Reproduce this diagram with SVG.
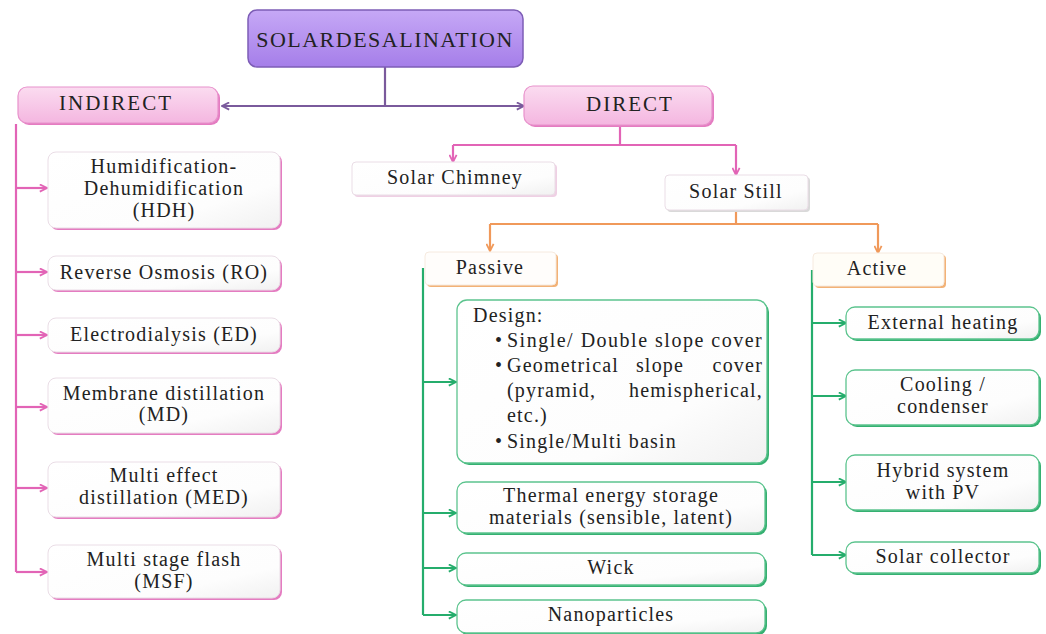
<svg xmlns="http://www.w3.org/2000/svg" width="1046" height="634" viewBox="0 0 1046 634">
<defs>
<linearGradient id="gPurple" x1="0" y1="0" x2="0" y2="1"><stop offset="0" stop-color="#c6a8f6"/><stop offset="1" stop-color="#a57ee9"/></linearGradient>
<linearGradient id="gPink" x1="0" y1="0" x2="0" y2="1"><stop offset="0" stop-color="#fbdcf0"/><stop offset="1" stop-color="#f4b6e0"/></linearGradient>
<linearGradient id="gWhite" x1="0" y1="0" x2="1" y2="1"><stop offset="0" stop-color="#ffffff"/><stop offset="0.7" stop-color="#fdfdfd"/><stop offset="1" stop-color="#f1f1f1"/></linearGradient>
<marker id="aPurple" viewBox="0 0 10 10" refX="9" refY="5" markerWidth="9" markerHeight="9" markerUnits="userSpaceOnUse" orient="auto-start-reverse"><path d="M1,1 L9,5 L1,9" fill="none" stroke="#7a5a9c" stroke-width="2"/></marker>
<marker id="aPink" viewBox="0 0 10 10" refX="9" refY="5" markerWidth="9" markerHeight="9" markerUnits="userSpaceOnUse" orient="auto"><path d="M1,1 L9,5 L1,9" fill="none" stroke="#e264b6" stroke-width="2"/></marker>
<marker id="aOrange" viewBox="0 0 10 10" refX="9" refY="5" markerWidth="9" markerHeight="9" markerUnits="userSpaceOnUse" orient="auto"><path d="M1,1 L9,5 L1,9" fill="none" stroke="#f0995a" stroke-width="2"/></marker>
<marker id="aGreen" viewBox="0 0 10 10" refX="9" refY="5" markerWidth="9" markerHeight="9" markerUnits="userSpaceOnUse" orient="auto"><path d="M1,1 L9,5 L1,9" fill="none" stroke="#25ad6c" stroke-width="2"/></marker>
</defs>
<style>
text{font-family:"Liberation Serif","Times New Roman",serif;fill:#222;font-size:20px;letter-spacing:1.2px}
.c{text-anchor:middle}
.title{font-size:22px;letter-spacing:1.5px}
.hdr{font-size:21px;letter-spacing:2px}
.design{letter-spacing:1.2px}
.wide{letter-spacing:1.5px}
.purpleBox{fill:url(#gPurple);stroke:#7d5db6;stroke-width:1.5}
.pinkBox{fill:url(#gPink);stroke:#e892cc;stroke-width:1.2}
.pinkShadow{fill:#e47cc1}
.wBox{fill:url(#gWhite);stroke:#eadde6;stroke-width:1}
.gBox{fill:url(#gWhite);stroke:#5cc48e;stroke-width:1.3}
.gShadow{fill:#35b071}
.oShadow{fill:#f2b277}
.greyShadow{fill:#d9d9d9}
.lPurple{fill:none;stroke:#7a5a9c;stroke-width:2.2}
.lPink{fill:none;stroke:#e264b6;stroke-width:2.2}
.lOrange{fill:none;stroke:#f0995a;stroke-width:2.2}
.lGreen{fill:none;stroke:#25ad6c;stroke-width:2.2}
</style>

<g id="connectors">
<path class="lPurple" d="M385,67 V106"/>
<path class="lPurple" d="M222,106 H524" marker-start="url(#aPurple)" marker-end="url(#aPurple)"/>
<path class="lPink" d="M16,124 V572"/>
<path class="lPink" d="M16,188 H47" marker-end="url(#aPink)"/>
<path class="lPink" d="M16,272 H47" marker-end="url(#aPink)"/>
<path class="lPink" d="M16,335 H47" marker-end="url(#aPink)"/>
<path class="lPink" d="M16,407 H47" marker-end="url(#aPink)"/>
<path class="lPink" d="M16,488 H47" marker-end="url(#aPink)"/>
<path class="lPink" d="M16,572 H47" marker-end="url(#aPink)"/>
<path class="lPink" d="M620,126 V145"/>
<path class="lPink" d="M453,145 H736"/>
<path class="lPink" d="M453,145 V162" marker-end="url(#aPink)"/>
<path class="lPink" d="M736,145 V175" marker-end="url(#aPink)"/>
<path class="lOrange" d="M736,210 V224"/>
<path class="lOrange" d="M490,224 H878"/>
<path class="lOrange" d="M490,224 V251" marker-end="url(#aOrange)"/>
<path class="lOrange" d="M878,224 V253" marker-end="url(#aOrange)"/>
<path class="lGreen" d="M423,268 V615"/>
<path class="lGreen" d="M423,382 H456" marker-end="url(#aGreen)"/>
<path class="lGreen" d="M423,513 H456" marker-end="url(#aGreen)"/>
<path class="lGreen" d="M423,568 H456" marker-end="url(#aGreen)"/>
<path class="lGreen" d="M423,615 H456" marker-end="url(#aGreen)"/>
<path class="lGreen" d="M812,270 V555"/>
<path class="lGreen" d="M812,323 H846" marker-end="url(#aGreen)"/>
<path class="lGreen" d="M812,396 H846" marker-end="url(#aGreen)"/>
<path class="lGreen" d="M812,482 H846" marker-end="url(#aGreen)"/>
<path class="lGreen" d="M812,555 H846" marker-end="url(#aGreen)"/>
</g>

<g id="n-solar-desalination">
<rect x="248" y="10" width="275" height="57" rx="9" class="purpleBox"/>
<text x="385" y="47" class="c title">SOLARDESALINATION</text>
</g>

<g id="n-indirect">
<rect x="20" y="89" width="200" height="36" rx="9" class="pinkShadow"/>
<rect x="18" y="87" width="200" height="36" rx="9" class="pinkBox"/>
<text x="116" y="110" class="c hdr">INDIRECT</text>
</g>

<g id="n-direct">
<rect x="526" y="88" width="188" height="39" rx="9" class="pinkShadow"/>
<rect x="524" y="86" width="188" height="39" rx="9" class="pinkBox"/>
<text x="630" y="111" class="c hdr">DIRECT</text>
</g>

<g id="n-hdh">
<rect x="50" y="154" width="232" height="76" rx="8" class="pinkShadow"/>
<rect x="48" y="152" width="232" height="76" rx="8" class="wBox"/>
<text x="164" y="173" class="c">Humidification-</text>
<text x="164" y="195" class="c">Dehumidification</text>
<text x="164" y="217" class="c">(HDH)</text>
</g>

<g id="n-ro">
<rect x="50" y="258" width="232" height="34" rx="8" class="pinkShadow"/>
<rect x="48" y="256" width="232" height="34" rx="8" class="wBox"/>
<text x="164" y="279" class="c">Reverse Osmosis (RO)</text>
</g>

<g id="n-ed">
<rect x="50" y="320" width="232" height="34" rx="8" class="pinkShadow"/>
<rect x="48" y="318" width="232" height="34" rx="8" class="wBox"/>
<text x="164" y="341" class="c">Electrodialysis (ED)</text>
</g>

<g id="n-md">
<rect x="50" y="380" width="232" height="55" rx="8" class="pinkShadow"/>
<rect x="48" y="378" width="232" height="55" rx="8" class="wBox"/>
<text x="164" y="400" class="c">Membrane distillation</text>
<text x="164" y="421" class="c">(MD)</text>
</g>

<g id="n-med">
<rect x="50" y="464" width="232" height="55" rx="8" class="pinkShadow"/>
<rect x="48" y="462" width="232" height="55" rx="8" class="wBox"/>
<text x="164" y="482" class="c">Multi effect</text>
<text x="164" y="504" class="c">distillation (MED)</text>
</g>

<g id="n-msf">
<rect x="50" y="547" width="232" height="53" rx="8" class="pinkShadow"/>
<rect x="48" y="545" width="232" height="53" rx="8" class="wBox"/>
<text x="164" y="566" class="c">Multi stage flash</text>
<text x="164" y="588" class="c">(MSF)</text>
</g>

<g id="n-solar-chimney">
<rect x="354" y="164" width="203" height="33" rx="4" fill="#efd0e4"/>
<rect x="352" y="162" width="203" height="33" rx="4" class="wBox"/>
<text x="455" y="184" class="c">Solar Chimney</text>
</g>

<g id="n-solar-still">
<rect x="667" y="177" width="143" height="35" rx="4" class="greyShadow"/>
<rect x="665" y="175" width="143" height="35" rx="4" class="wBox"/>
<text x="736" y="198" class="c">Solar Still</text>
</g>

<g id="n-passive">
<rect x="427" y="254" width="131" height="33" rx="4" class="oShadow"/>
<rect x="425" y="252" width="131" height="33" rx="4" fill="#fffdfb" stroke="#f6eadf" stroke-width="1"/>
<text x="490" y="274" class="c">Passive</text>
</g>

<g id="n-active">
<rect x="815" y="255" width="131" height="33" rx="4" class="oShadow"/>
<rect x="813" y="253" width="131" height="33" rx="4" fill="#fffdf7" stroke="#f6eadf" stroke-width="1"/>
<text x="877" y="275" class="c">Active</text>
</g>

<g id="n-design">
<rect x="459" y="302" width="310" height="163" rx="10" class="gShadow"/>
<rect x="457" y="300" width="310" height="163" rx="10" class="gBox"/>
<text x="473" y="322" class="design">Design:</text>
<text x="495" y="347" class="design">•</text>
<text x="507" y="347" class="design wide">Single/ Double slope cover</text>
<text x="495" y="372" class="design">•</text>
<text x="507" y="372" class="design">Geometrical</text>
<text x="660" y="372" class="design c">slope</text>
<text x="763" y="372" class="design" text-anchor="end">cover</text>
<text x="507" y="397" class="design">(pyramid,</text>
<text x="763" y="397" class="design" text-anchor="end">hemispherical,</text>
<text x="507" y="422" class="design">etc.)</text>
<text x="495" y="448" class="design">•</text>
<text x="507" y="448" class="design">Single/Multi basin</text>
</g>

<g id="n-thermal">
<rect x="459" y="484" width="308" height="51" rx="9" class="gShadow"/>
<rect x="457" y="482" width="308" height="51" rx="9" class="gBox"/>
<text x="611" y="502" class="c">Thermal energy storage</text>
<text x="611" y="524" class="c">materials (sensible, latent)</text>
</g>

<g id="n-wick">
<rect x="459" y="555" width="308" height="32" rx="9" class="gShadow"/>
<rect x="457" y="553" width="308" height="32" rx="9" class="gBox"/>
<text x="611" y="574" class="c">Wick</text>
</g>

<g id="n-nano">
<rect x="459" y="602" width="308" height="33" rx="9" class="gShadow"/>
<rect x="457" y="600" width="308" height="33" rx="9" class="gBox"/>
<text x="611" y="621" class="c">Nanoparticles</text>
</g>

<g id="n-external">
<rect x="848" y="309" width="193" height="32" rx="9" class="gShadow"/>
<rect x="846" y="307" width="193" height="32" rx="9" class="gBox"/>
<text x="943" y="329" class="c">External heating</text>
</g>

<g id="n-cooling">
<rect x="848" y="372" width="193" height="55" rx="9" class="gShadow"/>
<rect x="846" y="370" width="193" height="55" rx="9" class="gBox"/>
<text x="943" y="391" class="c">Cooling /</text>
<text x="943" y="413" class="c">condenser</text>
</g>

<g id="n-hybrid">
<rect x="848" y="457" width="193" height="55" rx="9" class="gShadow"/>
<rect x="846" y="455" width="193" height="55" rx="9" class="gBox"/>
<text x="943" y="477" class="c">Hybrid system</text>
<text x="943" y="499" class="c">with PV</text>
</g>

<g id="n-collector">
<rect x="848" y="544" width="193" height="31" rx="9" class="gShadow"/>
<rect x="846" y="542" width="193" height="31" rx="9" class="gBox"/>
<text x="943" y="563" class="c">Solar collector</text>
</g>
</svg>
